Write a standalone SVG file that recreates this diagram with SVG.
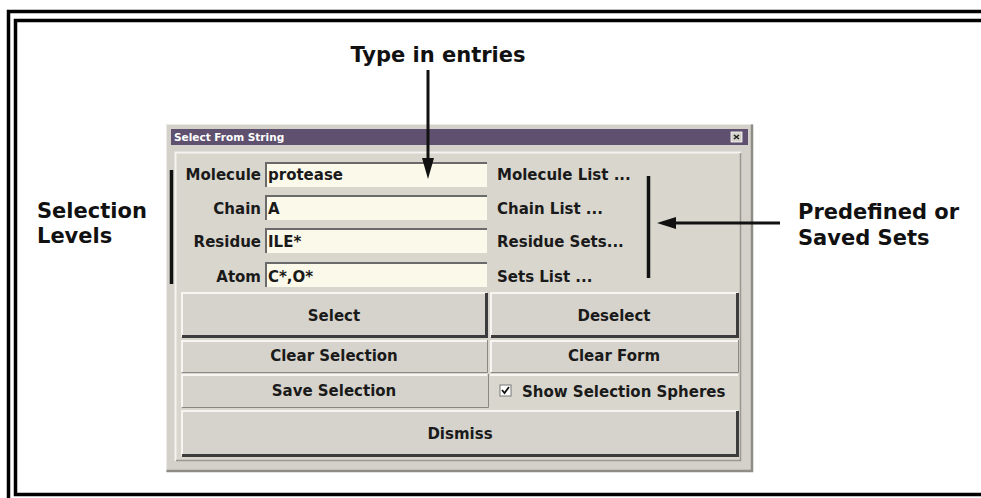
<svg xmlns="http://www.w3.org/2000/svg" width="981" height="498" viewBox="0 0 981 498">
<style>
.ui{font-family:"DejaVu Sans","Verdana",sans-serif;font-weight:bold;font-size:15px;fill:#1a1a1a}
.big{font-family:"DejaVu Sans","Verdana",sans-serif;font-weight:bold;font-size:21px;fill:#111}
.field{fill:#fbf9e9}
.fedge{fill:none;stroke:#6a6a6a;stroke-width:2}
.btn{fill:#d6d3cc}
.hi{fill:none;stroke:#f6f5f1;stroke-width:2}
.sh{fill:none;stroke:#3c3c3c;stroke-width:3}
.thin{fill:none;stroke:#8a8882;stroke-width:1}
.bar{stroke:#111;stroke-width:3.5;fill:none}
.frame{stroke:#000;stroke-width:3.5;fill:none}
</style>
<rect width="981" height="498" fill="#fff"/>
<g id="frame">
<path class="frame" d="M981 11.5H8.5V498"/>
<path class="frame" d="M981 20.5H15.5V494.5H981"/>
</g>
<g id="dialog">
<rect x="166" y="124" width="587" height="348" fill="#d4d1ca"/>
<path d="M166.5 471.5V124.5H752.5" fill="none" stroke="#eceae4" stroke-width="1"/>
<path d="M166.5 471H752V124.5" fill="none" stroke="#8e8c87" stroke-width="2.5"/>
<rect x="171" y="129" width="577" height="16" fill="#5e506e"/>
<text x="174" y="141" font-family="DejaVu Sans,Verdana,sans-serif" font-weight="bold" font-size="10.5" fill="#fff">Select From String</text>
<g id="close">
<rect x="731" y="132" width="11" height="10" fill="#d4d1ca" stroke="#fff" stroke-width="0.8"/>
<path d="M734 135l5 4M739 135l-5 4" stroke="#222" stroke-width="1.6"/>
</g>
<rect x="175" y="152" width="566" height="309" fill="#d9d6ce"/>
<path d="M175.5 461V152.5H741" fill="none" stroke="#f4f3ef" stroke-width="2"/>
<path d="M176 460.5H740.5V153" fill="none" stroke="#9a9892" stroke-width="1.5"/>
</g>
<g id="molecule">
<text class="ui" x="261" y="180" text-anchor="end">Molecule</text>
<rect class="field" x="265" y="162" width="222" height="25"/>
<path class="fedge" d="M266 187V163H487"/>
<text class="ui" x="268" y="180">protease</text>
</g>
<g id="chain">
<text class="ui" x="261" y="214" text-anchor="end">Chain</text>
<rect class="field" x="265" y="195" width="222" height="25"/>
<path class="fedge" d="M266 220V196H487"/>
<text class="ui" x="268" y="214">A</text>
</g>
<g id="residue">
<text class="ui" x="261" y="247" text-anchor="end">Residue</text>
<rect class="field" x="265" y="228" width="222" height="25"/>
<path class="fedge" d="M266 253V229H487"/>
<text class="ui" x="268" y="247">ILE*</text>
</g>
<g id="atom">
<text class="ui" x="261" y="282" text-anchor="end">Atom</text>
<rect class="field" x="265" y="262" width="222" height="25"/>
<path class="fedge" d="M266 287V263H487"/>
<text class="ui" x="268" y="282">C*,O*</text>
</g>
<g id="lists">
<text class="ui" x="497" y="180">Molecule List ...</text>
<text class="ui" x="497" y="214">Chain List ...</text>
<text class="ui" x="497" y="247">Residue Sets...</text>
<text class="ui" x="497" y="282">Sets List ...</text>
</g>
<g id="select">
<rect class="btn" x="181" y="292" width="307" height="46"/>
<path class="hi" d="M182 337V293H487"/>
<path class="sh" d="M182 336.5H486.5V293"/>
<text class="ui" x="334" y="321" text-anchor="middle">Select</text>
</g>
<g id="deselect">
<rect class="btn" x="490" y="292" width="249" height="46"/>
<path class="hi" d="M491 337V293H738"/>
<path class="sh" d="M491 336.5H737.5V293"/>
<text class="ui" x="614" y="321" text-anchor="middle">Deselect</text>
</g>
<g id="clearsel">
<rect class="btn" x="181" y="340" width="307" height="33"/>
<path class="hi" d="M182 372V341H487"/>
<path class="thin" d="M182 372.5H487.5V340"/>
<text class="ui" x="334" y="361" text-anchor="middle">Clear Selection</text>
</g>
<g id="clearform">
<rect class="btn" x="490" y="340" width="249" height="33"/>
<path class="hi" d="M491 372V341H738"/>
<path class="thin" d="M491 372.5H738.5V340"/>
<text class="ui" x="614" y="361" text-anchor="middle">Clear Form</text>
</g>
<g id="savesel">
<rect class="btn" x="181" y="374" width="307" height="34"/>
<path class="hi" d="M182 407V375H487"/>
<path class="thin" d="M182 407.5H488.5V374"/>
<text class="ui" x="334" y="396" text-anchor="middle">Save Selection</text>
</g>
<g id="spheres">
<path class="hi" d="M490 375H738"/>
<rect x="500" y="385" width="11" height="11" fill="#fff" stroke="#777" stroke-width="1"/>
<path d="M502 390l2.5 3l4.5-6" fill="none" stroke="#111" stroke-width="1.8"/>
<text class="ui" x="522" y="397">Show Selection Spheres</text>
</g>
<g id="dismiss">
<rect class="btn" x="181" y="410" width="558" height="47"/>
<path class="hi" d="M182 456V411H738"/>
<path class="sh" d="M182 455.5H737.5V411"/>
<text class="ui" x="460" y="439" text-anchor="middle">Dismiss</text>
</g>
<g id="type-in-entries">
<text class="big" x="438" y="62" text-anchor="middle">Type in entries</text>
</g>
<g id="selection-levels">
<text class="big" x="37" y="218">Selection</text>
<text class="big" x="37" y="243">Levels</text>
</g>
<g id="predefined">
<text class="big" x="798" y="219">Predefined or</text>
<text class="big" x="798" y="245">Saved Sets</text>
</g>
<g id="connectors">
<line class="bar" x1="171.5" y1="170" x2="171.5" y2="284"/>
<line class="bar" x1="648.5" y1="176" x2="648.5" y2="278"/>
<line x1="428" y1="70" x2="428" y2="162" stroke="#111" stroke-width="3"/>
<polygon points="428,179 422,158 434,158" fill="#111"/>
<line x1="780" y1="223" x2="672" y2="223" stroke="#111" stroke-width="3"/>
<polygon points="657,223 676,217 676,229" fill="#111"/>
</g>
</svg>
